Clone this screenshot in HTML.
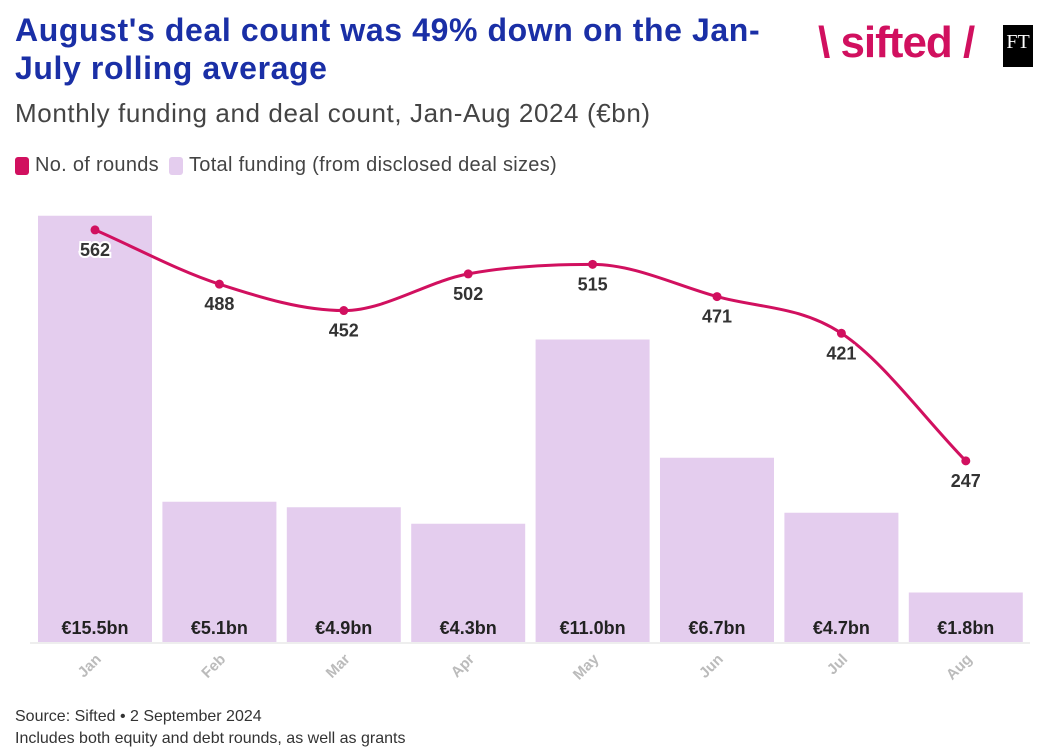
<!DOCTYPE html>
<html><head><meta charset="utf-8"><style>
body{margin:0;background:#fff;font-family:"Liberation Sans",sans-serif;}
#wrap{position:relative;width:1044px;height:752px;overflow:hidden;}
</style></head><body>
<div id="wrap">
<div style="position:absolute;left:15px;top:11px;width:800px;font-size:32px;font-weight:bold;color:#1a2fa6;line-height:38px;letter-spacing:0.6px;white-space:nowrap">August's deal count was 49% down on the Jan-<br>July rolling average</div>
<div style="position:absolute;left:15px;top:98px;font-size:26px;color:#444;letter-spacing:0.6px">Monthly funding and deal count, Jan-Aug 2024 (€bn)</div>
<div style="position:absolute;left:15px;top:154px;font-size:20px;color:#444;display:flex;align-items:center;letter-spacing:0.3px">
 <span style="display:flex;align-items:center"><span style="width:14px;height:18px;border-radius:3px;background:#d1105f;display:inline-block;margin-right:6px"></span>No. of rounds</span>
 <span style="display:flex;align-items:center;margin-left:10px"><span style="width:14px;height:18px;border-radius:3px;background:#e4cdee;display:inline-block;margin-right:6px"></span>Total funding (from disclosed deal sizes)</span>
</div>
<div style="position:absolute;left:818px;top:18px;font-size:44px;color:#d1105f;font-weight:bold;letter-spacing:-1px">\ sifted /</div>
<div style="position:absolute;left:1003px;top:25px;width:30px;height:42px;background:#000;color:#fff;font-family:'Liberation Serif',serif;font-size:20px;text-align:center;line-height:34px">FT</div>
<svg id="chart" width="1044" height="752" style="position:absolute;left:0;top:0"></svg>
<div style="position:absolute;left:15px;top:706px;font-size:16px;color:#333;line-height:22px">Source: Sifted • 2 September 2024<br>Includes both equity and debt rounds, as well as grants</div>
</div>
<script>
const months=["Jan","Feb","Mar","Apr","May","Jun","Jul","Aug"];
const funding=[15.5,5.1,4.9,4.3,11.0,6.7,4.7,1.8];
const rounds=[562,488,452,502,515,471,421,247];
const NS="http://www.w3.org/2000/svg";
const svg=document.getElementById('chart');
const base=642,step=124.4,x0=38,bw=114;
const yF=v=>base-v*27.5;
const yR=v=>base-v*0.7333;
const xC=i=>x0+i*step+bw/2;
function mk(t,a){const e=document.createElementNS(NS,t);for(const k in a)e.setAttribute(k,a[k]);svg.appendChild(e);return e;}
months.forEach((m,i)=>{
 const r=mk('rect',{x:x0+i*step,y:yF(funding[i]),width:bw,height:base-yF(funding[i]),fill:'#e4cdee'});
 
 
 const t=mk('text',{x:xC(i),y:base-8,'text-anchor':'middle','font-size':18,'font-weight':'bold',fill:'#222'});
 t.textContent='€'+funding[i].toFixed(1)+'bn';
 
 
 const l=mk('text',{x:xC(i)+7,y:base+18,'text-anchor':'end','font-size':15,'font-weight':'bold',fill:'#bbb',transform:`rotate(-45 ${xC(i)+7} ${base+18})`});
 l.textContent=m;
 
 
});
const axis=mk('line',{x1:30,x2:1030,y1:base+1,y2:base+1,stroke:'#ddd'});


const P=rounds.map((v,i)=>[xC(i),yR(v)]);
const n=P.length,d=[],m=[];
for(let i=0;i<n-1;i++)d.push((P[i+1][1]-P[i][1])/(P[i+1][0]-P[i][0]));
for(let i=0;i<n;i++){if(i==0)m.push(d[0]);else if(i==n-1)m.push(d[n-2]);else m.push(d[i-1]*d[i]<=0?0:(d[i-1]+d[i])/2);}
for(let i=0;i<n-1;i++){if(d[i]==0){m[i]=m[i+1]=0;continue;}const a=m[i]/d[i],b=m[i+1]/d[i],s=a*a+b*b;if(s>9){const t=3/Math.sqrt(s);m[i]=t*a*d[i];m[i+1]=t*b*d[i];}}
let path=`M${P[0][0]},${P[0][1]}`;
for(let i=0;i<n-1;i++){const h=(P[i+1][0]-P[i][0])/3;path+=` C${P[i][0]+h},${P[i][1]+m[i]*h} ${P[i+1][0]-h},${P[i+1][1]-m[i+1]*h} ${P[i+1][0]},${P[i+1][1]}`;}
const line=mk('path',{d:path,fill:'none',stroke:'#d1105f','stroke-width':3});


rounds.forEach((v,i)=>{
 const c=mk('circle',{cx:xC(i),cy:yR(v),r:4.5,fill:'#d1105f'});
 
 
 const t=mk('text',{x:xC(i),y:yR(v)+26,'text-anchor':'middle','font-size':18,'font-weight':'bold',fill:'#333',stroke:'#fff','stroke-width':4,'paint-order':'stroke'});
 t.textContent=v;
 
 
});
</script>
</body></html>
